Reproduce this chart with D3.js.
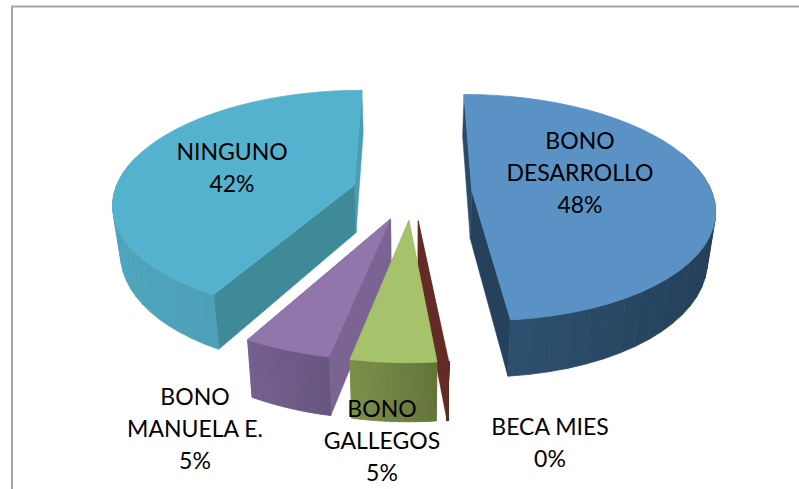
<!DOCTYPE html>
<html><head><meta charset="utf-8">
<script src="https://cdn.jsdelivr.net/npm/d3@7/dist/d3.min.js"></script>
<style>html,body{margin:0;padding:0;background:#fff;overflow:hidden}svg{display:block}</style>
</head><body><svg id="c" width="799" height="489"></svg>
<script>
const categories = ["BONO DESARROLLO","BECA MIES","BONO GALLEGOS","BONO MANUELA E.","NINGUNO"];
const values = [48.4,0.05,4.72,4.88,41.95];
const labelLines = [["BONO","DESARROLLO"],["BECA MIES"],["BONO","GALLEGOS"],["BONO","MANUELA E."],["NINGUNO"]];
const topColors = ["#5b92c6","#8c3b37","#a6c36c","#9176ab","#55b2cf"];
const rimColors = [["#2e5474","#25405a"],["#632a26","#632a26"],["#7c9049","#63733a"],["#75608f","#665480"],["#4fa5bd","#4b97ad"]];
const startWallColors = ["#2a4a68","#632a26","#76883f","#7b6394","#3f8a99"];
const endWallColors = ["#26415c","#632a26","#76883f","#6d5788","#4a9db3"];
const drawOrder = [4,0,1,3,2];
const labelPos = [[580,149],[550,435],[382,417],[195,405],[232,160]];

const W=799,H=489;
const O={x:412,y:192}, Sx=240, Sy=111, k=0.15, explode=0.25, depth=48, inward=0.973;
const xS=d3.scaleLinear().domain([0,1]).range([O.x,O.x+Sx]);
const yS=d3.scaleLinear().domain([0,1]).range([O.y,O.y+Sy]);
function proj(u,v,low){
  const w=1/(1-k*v);
  let x=xS(u*w), y=yS(v*w);
  if(low){ x=O.x+(x-O.x)*inward; y+=depth*w; }
  return [x,y];
}
const svg=d3.select("#c");
svg.append("rect").attr("x",12).attr("y",6.5).attr("width",W+20).attr("height",H+20)
  .attr("fill","#fff").attr("stroke","#a6a6a6").attr("stroke-width",2);

const arcs=d3.pie().sort(null).startAngle(0).endAngle(2*Math.PI)(values);
const line=d3.line();
function poly(pts,fill,sw){
  svg.append("path").attr("d",line(pts)+"Z").attr("fill",fill).attr("stroke",fill).attr("stroke-width",sw||0.5).attr("stroke-linejoin","round");
}
drawOrder.forEach(i=>{
  const a=arcs[i], mid=(a.startAngle+a.endAngle)/2;
  const ax=explode*Math.sin(mid), ay=-explode*Math.cos(mid);
  const pt=(ang,low)=>proj(ax+Math.sin(ang),ay-Math.cos(ang),low);
  const apex=low=>proj(ax,ay,low);
  const angs=d3.range(0,41).map(t=>a.startAngle+(a.endAngle-a.startAngle)*t/40);
  poly([apex(false),pt(a.endAngle,false),pt(a.endAngle,true),apex(true)],endWallColors[i]);
  poly([apex(false),pt(a.startAngle,false),pt(a.startAngle,true),apex(true)],startWallColors[i]);
  const rimTop=angs.map(t=>pt(t,false)), rimLow=angs.map(t=>pt(t,true));
  const xs=rimTop.map(p=>p[0]);
  const color=d3.scaleLinear().domain([d3.min(xs),d3.max(xs)]).range(rimColors[i]);
  d3.range(0,40).forEach(j=>{
    if(ay-Math.cos(angs[j])<-0.3 && ay-Math.cos(angs[j+1])<-0.3) return;
    poly([rimTop[j],rimTop[j+1],rimLow[j+1],rimLow[j]],color((rimTop[j][0]+rimTop[j+1][0])/2),0.8);
  });
  if(values[i]>1) poly([apex(false)].concat(rimTop),topColors[i],0.8);
});
const fmt=d3.format(".0%"), total=d3.sum(values);
categories.forEach((c,i)=>{
  const lines=labelLines[i].concat([fmt(values[i]/total)]);
  const t=svg.append("text").attr("text-anchor","middle").attr("font-family","Lato, Carlito, sans-serif")
    .attr("font-size",23).attr("fill","#000");
  lines.forEach((l,j)=>t.append("tspan").attr("x",labelPos[i][0]).attr("y",labelPos[i][1]+j*32).text(l));
});
</script></body></html>
